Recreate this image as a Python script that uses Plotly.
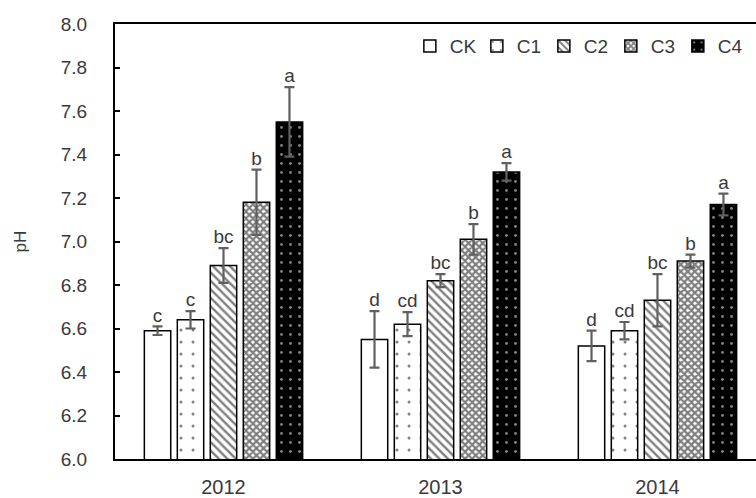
import plotly.graph_objects as go

years = ["2012", "2013", "2014"]
treatments = ["CK", "C1", "C2", "C3", "C4"]
ph_mean = {
    "CK": [6.59, 6.55, 6.52],
    "C1": [6.64, 6.62, 6.59],
    "C2": [6.89, 6.82, 6.73],
    "C3": [7.18, 7.01, 6.91],
    "C4": [7.55, 7.32, 7.17],
}
ph_err = {
    "CK": [0.02, 0.13, 0.07],
    "C1": [0.04, 0.055, 0.04],
    "C2": [0.08, 0.03, 0.12],
    "C3": [0.15, 0.07, 0.03],
    "C4": [0.16, 0.04, 0.05],
}
letters = {
    "CK": ["c", "d", "d"],
    "C1": ["c", "cd", "cd"],
    "C2": ["bc", "bc", "bc"],
    "C3": ["b", "b", "b"],
    "C4": ["a", "a", "a"],
}
y_ticks = [6.0, 6.2, 6.4, 6.6, 6.8, 7.0, 7.2, 7.4, 7.6, 7.8, 8.0]

patterns = {
    "CK": dict(shape="", bgcolor="white"),
    "C1": dict(shape=".", fgcolor="black", bgcolor="white", size=12, solidity=0.05),
    "C2": dict(shape="\\", fgcolor="black", bgcolor="white", size=6, solidity=0.4),
    "C3": dict(shape="x", fgcolor="black", bgcolor="white", size=5, solidity=0.7),
    "C4": dict(shape=".", fgcolor="white", bgcolor="black", size=9, solidity=0.08),
}
colors = {"CK": "white", "C1": "white", "C2": "white", "C3": "white", "C4": "black"}

FONT = "Liberation Sans, Arial, sans-serif"
TXT = "#3a3a3a"

fig = go.Figure()
for t in treatments:
    fig.add_trace(go.Bar(
        x=years, y=ph_mean[t], name=t, offsetgroup=t,
        marker=dict(color=colors[t], line=dict(color="black", width=1.5), pattern=patterns[t]),
        error_y=dict(type="data", array=ph_err[t], color="#606060", thickness=2.2, width=5),
    ))
for t in treatments:
    fig.add_trace(go.Scatter(
        x=years, y=[m + e for m, e in zip(ph_mean[t], ph_err[t])],
        text=letters[t], mode="text", textposition="top center", offsetgroup=t,
        textfont=dict(family=FONT, size=19, color=TXT), showlegend=False, hoverinfo="skip",
    ))

fig.update_layout(
    width=756, height=498,
    margin=dict(l=115, r=0, t=24, b=39),
    paper_bgcolor="white", plot_bgcolor="white",
    barmode="group", bargap=0.24, bargroupgap=0.2,
    scattermode="group", scattergap=0.24,
    font=dict(family=FONT, size=19, color=TXT),
    showlegend=True,
    legend=dict(orientation="h", x=0.46, y=0.949, xanchor="left", yanchor="middle",
                font=dict(family=FONT, size=19, color=TXT), bgcolor="rgba(0,0,0,0)",
                itemwidth=30, traceorder="normal", entrywidth=22, entrywidthmode="pixels"),
    xaxis=dict(range=[-0.5, 2.454], showline=True, linecolor="black", linewidth=2,
               mirror=True, ticks="", showgrid=False, ticklabelstandoff=9,
               tickfont=dict(size=20, color=TXT)),
    yaxis=dict(range=[6.0, 8.0], tickvals=y_ticks, tickformat=".1f",
               showline=True, linecolor="black", linewidth=2, mirror=False,
               ticks="inside", ticklen=5, tickwidth=1.5, tickcolor="black",
               ticklabelstandoff=22,
               showgrid=False, zeroline=False, tickfont=dict(size=19, color=TXT),
               title=dict(text="pH", font=dict(size=17, color=TXT), standoff=30)),
)
fig.write_html("out.html")
